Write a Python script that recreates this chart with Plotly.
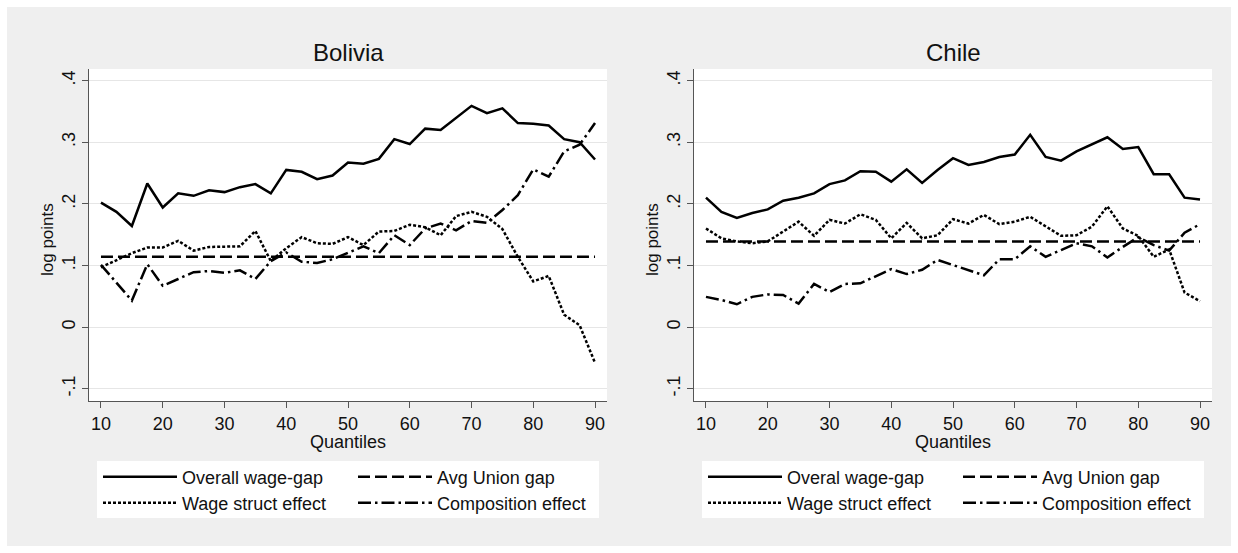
import plotly.graph_objects as go

# ---------------- data ----------------
quantiles = [10, 12.5, 15, 17.5, 20, 22.5, 25, 27.5, 30, 32.5, 35, 37.5, 40, 42.5, 45, 47.5,
             50, 52.5, 55, 57.5, 60, 62.5, 65, 67.5, 70, 72.5, 75, 77.5, 80, 82.5, 85, 87.5, 90]

bol_overall = [0.202, 0.187, 0.164, 0.233, 0.194, 0.217, 0.213, 0.222, 0.219, 0.227, 0.232, 0.217,
               0.255, 0.252, 0.240, 0.246, 0.267, 0.265, 0.273, 0.305, 0.297, 0.322, 0.320, 0.340,
               0.359, 0.347, 0.355, 0.331, 0.330, 0.327, 0.305, 0.300, 0.272]
bol_wage = [0.097, 0.109, 0.120, 0.129, 0.129, 0.140, 0.124, 0.130, 0.130, 0.131, 0.156, 0.107,
            0.128, 0.146, 0.136, 0.135, 0.146, 0.133, 0.155, 0.156, 0.166, 0.162, 0.149, 0.180,
            0.187, 0.179, 0.159, 0.114, 0.074, 0.083, 0.020, 0.003, -0.058]
bol_comp = [0.101, 0.072, 0.043, 0.102, 0.067, 0.078, 0.089, 0.091, 0.088, 0.092, 0.078, 0.107,
            0.121, 0.106, 0.104, 0.110, 0.121, 0.131, 0.120, 0.149, 0.133, 0.160, 0.168, 0.157,
            0.172, 0.169, 0.190, 0.214, 0.256, 0.244, 0.285, 0.296, 0.331]
bol_avg_union = 0.114

chi_overall = [0.210, 0.187, 0.177, 0.185, 0.191, 0.205, 0.210, 0.217, 0.232, 0.238, 0.253, 0.252,
               0.236, 0.256, 0.234, 0.255, 0.274, 0.263, 0.268, 0.276, 0.280, 0.312, 0.276, 0.270,
               0.285, 0.296, 0.308, 0.289, 0.292, 0.248, 0.248, 0.210, 0.207]
chi_wage = [0.160, 0.144, 0.139, 0.136, 0.139, 0.155, 0.171, 0.148, 0.174, 0.168, 0.183, 0.174,
            0.144, 0.169, 0.144, 0.149, 0.175, 0.168, 0.182, 0.167, 0.171, 0.179, 0.163, 0.148,
            0.149, 0.163, 0.196, 0.160, 0.148, 0.114, 0.126, 0.056, 0.042]
chi_comp = [0.049, 0.044, 0.037, 0.049, 0.053, 0.052, 0.038, 0.070, 0.057, 0.070, 0.071, 0.082,
            0.094, 0.086, 0.093, 0.109, 0.101, 0.093, 0.084, 0.110, 0.110, 0.131, 0.114, 0.125,
            0.136, 0.131, 0.113, 0.130, 0.146, 0.133, 0.124, 0.153, 0.167]
chi_avg_union = 0.139

x_ticks = [10, 20, 30, 40, 50, 60, 70, 80, 90]
y_ticks = [-0.1, 0, 0.1, 0.2, 0.3, 0.4]
y_ticktext = ["-.1", "0", ".1", ".2", ".3", ".4"]

panels = ["Bolivia", "Chile"]
names_bol = ["Overall wage-gap", "Avg Union gap", "Wage struct effect", "Composition effect"]
names_chi = ["Overal wage-gap", "Avg Union gap", "Wage struct effect", "Composition effect"]

# ---------------- layout geometry ----------------
W, H = 1238, 553
FONT = "Liberation Sans, Arial, sans-serif"
px = lambda v: v / W
py = lambda v: 1 - v / H

plot_boxes = [(89, 607), (694, 1212)]
ytop, ybot = 69, 401
panel_shift = [0, 605]

styles = [
    dict(dash="solid", width=2.5),
    dict(dash="12px,5px", width=2.5),
    dict(dash="3px,2px", width=2.5),
    dict(dash="13px,4px,2.5px,4px", width=2.5),
]
# legend slots (col, row) for the four series in each panel
slots = [(0, 0), (1, 0), (0, 1), (1, 1)]
col_left = [98, 353]
row_mid = [477, 503]

fig = go.Figure()

series = [
    (bol_overall, [bol_avg_union] * len(quantiles), bol_wage, bol_comp, names_bol),
    (chi_overall, [chi_avg_union] * len(quantiles), chi_wage, chi_comp, names_chi),
]

legends = {}
lid = 0
for i, (ov, au, ws, ce, nm) in enumerate(series):
    xa = "x" if i == 0 else "x2"
    ya = "y" if i == 0 else "y2"
    for vals, name, st, (c, r) in zip([ov, au, ws, ce], nm, styles, slots):
        lid += 1
        lname = "legend" if lid == 1 else f"legend{lid}"
        legends[lname] = dict(
            x=px(col_left[c] + panel_shift[i]), y=py(row_mid[r]),
            xanchor="left", yanchor="middle", bgcolor="rgba(0,0,0,0)", borderwidth=0,
            font=dict(family=FONT, size=18, color="#111"), itemwidth=74,
            orientation="v")
        fig.add_trace(go.Scatter(
            x=quantiles, y=vals, mode="lines", name=name,
            line=dict(color="black", width=st["width"], dash=st["dash"]),
            xaxis=xa, yaxis=ya, legend=lname, hoverinfo="skip"))

axis_common_x = dict(
    range=[8.06, 91.94], tickvals=x_ticks, ticks="outside", ticklen=6, tickwidth=1,
    tickcolor="#555", showline=True, linecolor="#555", linewidth=1, showgrid=False,
    zeroline=False, tickfont=dict(family=FONT, size=18, color="#111"), fixedrange=True)
axis_common_y = dict(
    range=[-0.120, 0.4188], tickvals=y_ticks, ticktext=y_ticktext, ticks="outside",
    ticklen=6, tickwidth=1, tickcolor="#555", showline=True, linecolor="#555", linewidth=1,
    showgrid=True, gridcolor="#e6e6e6", gridwidth=1, zeroline=False, tickangle=-90,
    tickfont=dict(family=FONT, size=18, color="#111"), fixedrange=True)

layout_axes = {}
for i, (x0, x1) in enumerate(plot_boxes):
    sfx = "" if i == 0 else "2"
    ax = dict(axis_common_x)
    ax["domain"] = [px(x0), px(x1)]
    ax["anchor"] = "y" + sfx
    ay = dict(axis_common_y)
    ay["domain"] = [py(ybot), py(ytop)]
    ay["anchor"] = "x" + sfx
    layout_axes["xaxis" + sfx] = ax
    layout_axes["yaxis" + sfx] = ay

shapes = [
    dict(type="rect", xref="paper", yref="paper", x0=px(7), x1=px(1231), y0=py(546), y1=py(7),
         fillcolor="#efefef", line=dict(width=0), layer="below"),
]
for (x0, x1) in plot_boxes:
    shapes.append(dict(type="rect", xref="paper", yref="paper", x0=px(x0), x1=px(x1),
                       y0=py(ybot), y1=py(ytop), fillcolor="white", line=dict(width=0),
                       layer="below"))
for s in panel_shift:
    shapes.append(dict(type="rect", xref="paper", yref="paper", x0=px(97 + s), x1=px(599 + s),
                       y0=py(518), y1=py(461), fillcolor="white", line=dict(width=0),
                       layer="below"))

annotations = []
for (x0, x1), title in zip(plot_boxes, panels):
    cx = (x0 + x1) / 2
    annotations.append(dict(text=title, x=px(cx), y=py(52), xref="paper", yref="paper",
                            showarrow=False, xanchor="center", yanchor="middle",
                            font=dict(family=FONT, size=24, color="#111")))
    annotations.append(dict(text="Quantiles", x=px(cx), y=py(442), xref="paper", yref="paper",
                            showarrow=False, xanchor="center", yanchor="middle",
                            font=dict(family=FONT, size=18, color="#111")))
    annotations.append(dict(text="log points", x=px(x0 - 41), y=py((ytop + ybot) / 2 + 5),
                            xref="paper", yref="paper", textangle=-90, showarrow=False,
                            xanchor="center", yanchor="middle",
                            font=dict(family=FONT, size=17, color="#111")))

fig.update_layout(
    width=W, height=H, margin=dict(l=0, r=0, t=0, b=0),
    paper_bgcolor="white", plot_bgcolor="rgba(0,0,0,0)",
    showlegend=True, shapes=shapes, annotations=annotations, **legends, **layout_axes)

fig.write_html(
    "out.html",
    config={"displayModeBar": False},
    post_script="document.body.style.margin='0';document.body.style.overflow='hidden';",
)
